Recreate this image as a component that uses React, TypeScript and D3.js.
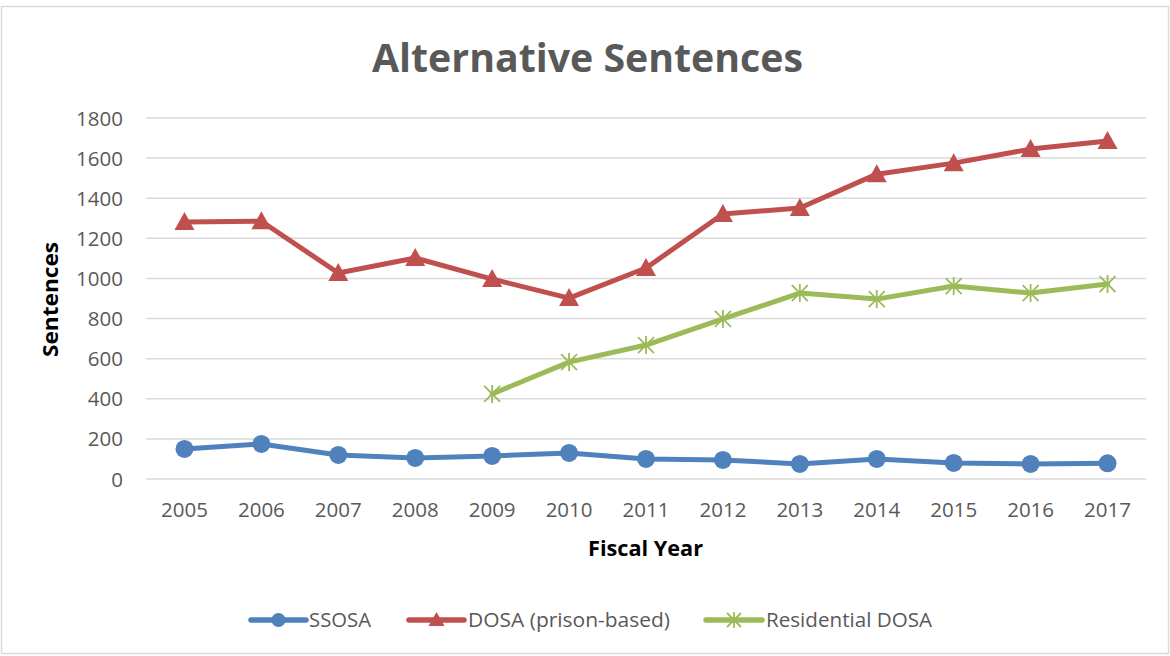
import React from "react";
import * as d3 from "d3";

const years = ["2005","2006","2007","2008","2009","2010","2011","2012","2013","2014","2015","2016","2017"];
const ssosa = [150,175,120,105,115,130,100,95,75,100,80,75,78];
const dosa = [1281,1285,1027,1102,997,902,1052,1321,1351,1520,1575,1645,1685];
const residential: (number|null)[] = [null,null,null,null,424,583,668,798,927,897,962,927,972];
const yTicks = [0,200,400,600,800,1000,1200,1400,1600,1800];
const seriesNames = ["SSOSA","DOSA (prison-based)","Residential DOSA"];
const colors = ["#4F81BD","#C0504D","#9BBB59"];

const W = 1170, H = 656;
const FONT = "Open Sans, Noto Sans, sans-serif";
const TXT = "#595959";

function Marker({ kind, x, y, color, s = 9 }: { kind: number; x: number; y: number; color: string; s?: number }) {
  if (kind === 0) return <circle cx={x} cy={y} r={s} fill={color} />;
  if (kind === 1) {
    return <path d={`M${x},${y - s - 1}L${x + s + 1},${y + s - 1}L${x - s - 1},${y + s - 1}Z`} fill={color} />;
  }
  return (
    <g stroke={color} strokeWidth={1.8}>
      <line x1={x - s} y1={y - s} x2={x + s} y2={y + s} />
      <line x1={x - s} y1={y + s} x2={x + s} y2={y - s} />
      <line x1={x} y1={y - s - 1} x2={x} y2={y + s + 1} />
    </g>
  );
}

export default function App() {
  const x = d3.scalePoint<string>().domain(years).range([146, 1146]).padding(0.5);
  const y = d3.scaleLinear().domain([0, 1800]).range([479, 118]);
  const data = [ssosa, dosa, residential];
  const line = d3.line<number | null>()
    .defined((d) => d !== null)
    .x((_, i) => x(years[i]) as number)
    .y((d) => y(d as number));

  const legendItems = [
    { x0: 251, x1: 306, tx: 309, tw: 62 },
    { x0: 409, x1: 464, tx: 468, tw: 202 },
    { x0: 706, x1: 762, tx: 766, tw: 166 },
  ];

  return (
    <svg width={W} height={H} style={{ position: "absolute", left: 0, top: 0 }} fontFamily={FONT}>
      <rect x={0} y={0} width={W} height={H} fill="#fff" />
      <rect x={1.5} y={6.5} width={1167} height={647} fill="#fff" stroke="#D9D9D9" strokeWidth={1.5} />
      <text x={372} y={72} fontSize={39} fontWeight="bold" fill={TXT} textLength={431} lengthAdjust="spacingAndGlyphs">Alternative Sentences</text>
      {yTicks.map((t) => (
        <g key={t}>
          <line x1={146} x2={1146} y1={y(t)} y2={y(t)} stroke="#D9D9D9" strokeWidth={1.5} />
          <text x={123} y={y(t) + 7.5} textAnchor="end" fontSize={20.5} fill={TXT}>{t}</text>
        </g>
      ))}
      {years.map((yr) => (
        <text key={yr} x={x(yr)} y={517} textAnchor="middle" fontSize={20.5} fill={TXT}>{yr}</text>
      ))}
      <text x={588} y={556} fontSize={21} fontWeight="bold" fill="#000" textLength={115} lengthAdjust="spacingAndGlyphs">Fiscal Year</text>
      <text transform="translate(58,357) rotate(-90)" fontSize={21} fontWeight="bold" fill="#000" textLength={115} lengthAdjust="spacingAndGlyphs">Sentences</text>
      {data.map((d, k) => (
        <g key={k}>
          <path d={line(d) || ""} fill="none" stroke={colors[k]} strokeWidth={5} strokeLinejoin="round" strokeLinecap="round" />
          {d.map((v, i) => v === null ? null : (
            <Marker key={i} kind={k} x={x(years[i]) as number} y={y(v)} color={colors[k]} s={k === 2 ? 8 : 9} />
          ))}
        </g>
      ))}
      {legendItems.map((l, k) => (
        <g key={k}>
          <line x1={l.x0} x2={l.x1} y1={620} y2={620} stroke={colors[k]} strokeWidth={5.5} strokeLinecap="round" />
          <Marker kind={k} x={(l.x0 + l.x1) / 2} y={620} color={colors[k]} s={7} />
          <text x={l.tx} y={627} fontSize={20} fill={TXT} textLength={l.tw} lengthAdjust="spacingAndGlyphs">{seriesNames[k]}</text>
        </g>
      ))}
    </svg>
  );
}
